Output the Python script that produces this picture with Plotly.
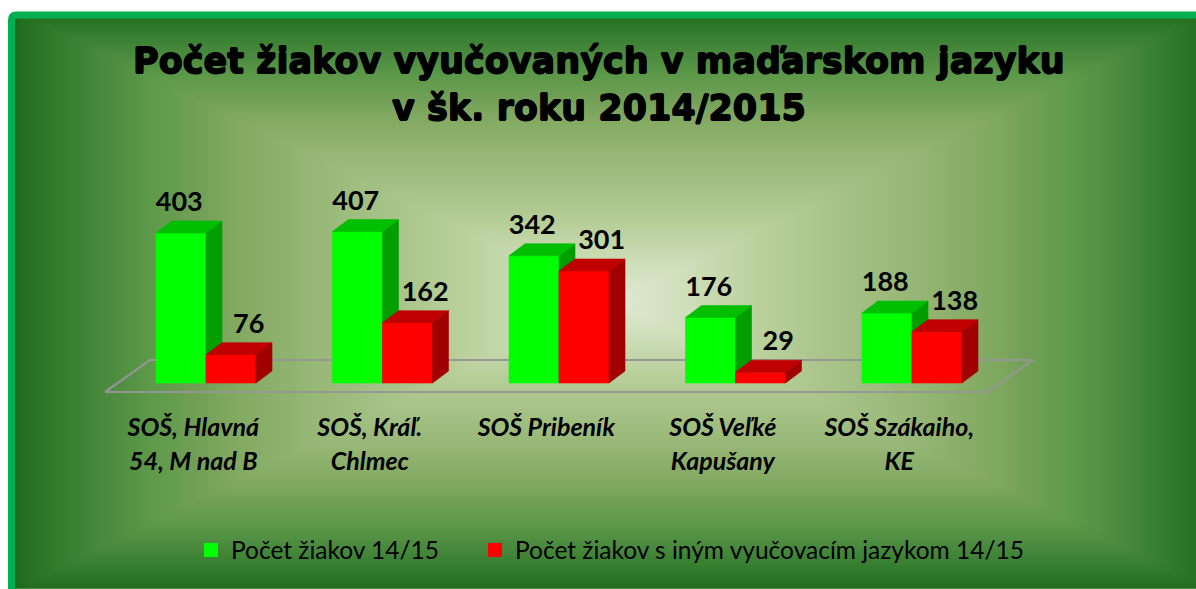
import numpy as np
import plotly.graph_objects as go

# ---------------- data ----------------
categories = ["SOŠ, Hlavná<br>54, M nad B", "SOŠ, Kráľ.<br>Chlmec", "SOŠ Pribeník",
              "SOŠ Veľké<br>Kapušany", "SOŠ Szákaiho,<br>KE"]
students = [403, 407, 342, 176, 188]
other_lang = [76, 162, 301, 29, 138]
series_names = ["Počet žiakov 14/15", "Počet žiakov s iným vyučovacím jazykom 14/15"]
title_lines = ["Počet žiakov vyučovaných v maďarskom jazyku", "v šk. roku 2014/2015"]

# ---------------- geometry / style ----------------
W, H = 1196, 589
PX_PER_CAT = 176.5
PX_PER_VAL = 0.372
X0_PX = 206.0
Y0_PX = 383.0
x_range = [-X0_PX / PX_PER_CAT, (W - X0_PX) / PX_PER_CAT]
y_range = [-(H - Y0_PX) / PX_PER_VAL, Y0_PX / PX_PER_VAL]

BW = 50 / PX_PER_CAT
DX = 16 / PX_PER_CAT
DY = 12 / PX_PER_VAL
FLOOR_FX, FLOOR_FY = -12.7 / PX_PER_CAT, -9 / PX_PER_VAL
FLOOR_BX, FLOOR_BY = 32.3 / PX_PER_CAT, 23 / PX_PER_VAL

GREEN = dict(front="#00FF00", side="#009E00", top="#00BE00")
RED = dict(front="#FF0000", side="#A00000", top="#C00000")
FONT = "Lato, Carlito, 'Liberation Sans', sans-serif"
TITLE_FONT = "'DejaVu Sans', Lato, sans-serif"

fig = go.Figure()

# background gradient (rectangular path gradient)
cx, cy, hw, hh = 612, 300, 598, 290
gx = np.linspace(15, W, 160)
gy = np.linspace(18, H, 90)
GX, GY = np.meshgrid(gx, gy)
T = np.maximum(np.abs(GX - cx) / hw, np.abs(GY - cy) / hh)
T = np.clip(T, 0, 1)
bg_scale = [[0.0, "#e0ead4"], [0.12, "#cfdfbb"], [0.26, "#b8cf9a"], [0.36, "#a9c48a"],
            [0.5, "#97b776"], [0.64, "#80a860"], [0.69, "#72a057"], [0.77, "#5e9a4a"],
            [0.85, "#4a8a3e"], [0.94, "#2f7a2a"], [1.0, "#1f6b1c"]]
fig.add_trace(go.Heatmap(x=gx, y=gy, z=T, colorscale=bg_scale, zmin=0, zmax=1,
                         zsmooth="best", showscale=False, hoverinfo="skip",
                         xaxis="x", yaxis="y"))

# floor
n = len(categories)
fx = [-0.5 + FLOOR_FX, n - 0.5 + FLOOR_FX, n - 0.5 + FLOOR_BX, -0.5 + FLOOR_BX, -0.5 + FLOOR_FX]
fy = [FLOOR_FY, FLOOR_FY, FLOOR_BY, FLOOR_BY, FLOOR_FY]
fig.add_trace(go.Scatter(x=fx, y=fy, mode="lines", line=dict(color="rgba(150,150,150,0.95)", width=2.2),
                         hoverinfo="skip", showlegend=False, xaxis="x2", yaxis="y2"))


def add_bar(xl, v, col):
    faces = [
        ([xl, xl + BW, xl + BW, xl, xl], [0, 0, v, v, 0], col["front"]),
        ([xl + BW, xl + BW + DX, xl + BW + DX, xl + BW, xl + BW], [0, DY, v + DY, v, 0], col["side"]),
        ([xl, xl + BW, xl + BW + DX, xl + DX, xl], [v, v, v + DY, v + DY, v], col["top"]),
    ]
    for xs, ys, c in faces:
        fig.add_trace(go.Scatter(x=xs, y=ys, mode="lines", fill="toself", fillcolor=c,
                                 line=dict(color=c, width=0.6), hoverinfo="skip",
                                 showlegend=False, xaxis="x2", yaxis="y2"))


for i in range(n):
    add_bar(i - BW, students[i], GREEN)
    add_bar(i, other_lang[i], RED)

# data labels
GAP = 3 / PX_PER_VAL
fig.add_trace(go.Scatter(x=[i - BW / 2 - 0.01 for i in range(n)],
                         y=[v + DY + GAP for v in students],
                         text=[str(v) for v in students], mode="text", textposition="top center",
                         textfont=dict(family=FONT, size=27, color="#000000", weight="bold"),
                         hoverinfo="skip", showlegend=False, xaxis="x2", yaxis="y2"))
fig.add_trace(go.Scatter(x=[i + BW / 2 + 0.1 for i in range(n)],
                         y=[v + DY + GAP for v in other_lang],
                         text=[str(v) for v in other_lang], mode="text", textposition="top center",
                         textfont=dict(family=FONT, size=27, color="#000000", weight="bold"),
                         hoverinfo="skip", showlegend=False, xaxis="x2", yaxis="y2"))

# category labels (each line placed separately for Excel-like line pitch)
line_rows = [417, 451]
for k, row in enumerate(line_rows):
    xs, ts = [], []
    for i, c in enumerate(categories):
        parts = c.split("<br>")
        if k < len(parts):
            xs.append(i + FLOOR_FX)
            ts.append(parts[k])
    fig.add_trace(go.Scatter(x=xs, y=[-(row - Y0_PX) / PX_PER_VAL] * len(xs),
                             text=ts, mode="text", textposition="bottom center",
                             textfont=dict(family=FONT, size=25, color="#000000",
                                           weight="bold", style="italic"),
                             hoverinfo="skip", showlegend=False, xaxis="x2", yaxis="y2"))

# legend entries (two independent legends)
for name, col, lg in zip(series_names, [GREEN["front"], RED["front"]], ["legend", "legend2"]):
    fig.add_trace(go.Scatter(x=[None], y=[None], mode="markers", name=name, legend=lg,
                             marker=dict(symbol="square", size=14, color=col),
                             xaxis="x2", yaxis="y2"))

# title
for line, yc in zip(title_lines, [61, 108]):
    fig.add_annotation(text=line, xref="paper", yref="paper",
                       x=599 / W, y=1 - yc / H, xanchor="center", yanchor="middle",
                       showarrow=False, align="center",
                       font=dict(family=TITLE_FONT, size=35, color="#000000", weight="bold",
                                 shadow="0.7px 0 0 #000, -0.7px 0 0 #000, 0 0.7px 0 #000, 0 -0.7px 0 #000"))

# outer green frame
fig.add_shape(type="path", xref="x", yref="y",
              path="M 11.5 640 L 11.5 20 Q 11.5 15 16.5 15 L 1240 15",
              line=dict(color="#00B050", width=7), fillcolor="rgba(0,0,0,0)", layer="above")

legend_common = dict(orientation="h", yanchor="middle", y=1 - 550 / H, xanchor="left",
                     bgcolor="rgba(0,0,0,0)", font=dict(family=FONT, size=24.5, color="#000000"),
                     itemwidth=30, borderwidth=0)

fig.update_layout(
    width=W, height=H, autosize=False,
    margin=dict(l=0, r=0, t=0, b=0, pad=0),
    paper_bgcolor="#FFFFFF", plot_bgcolor="#FFFFFF",
    xaxis=dict(range=[0, W], visible=False, fixedrange=True),
    yaxis=dict(range=[H, 0], visible=False, fixedrange=True),
    xaxis2=dict(range=x_range, visible=False, overlaying="x", fixedrange=True),
    yaxis2=dict(range=y_range, visible=False, overlaying="y", fixedrange=True),
    showlegend=True,
    legend=dict(x=191 / W, **legend_common),
    legend2=dict(x=475 / W, **legend_common),
)

fig.write_html("out.html", config={"displayModeBar": False},
               post_script="document.body.style.margin='0px';")
